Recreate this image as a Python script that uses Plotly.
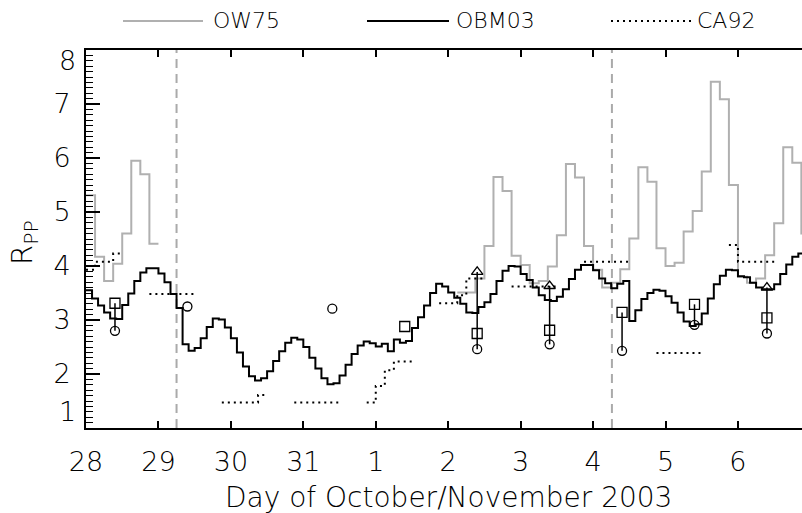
import plotly.graph_objects as go

# ---------------- data (x = days since 2003-10-28 00:00 UT) ----------------
day_tickvals = [0, 1, 2, 3, 4, 5, 6, 7, 8, 9]
day_ticklabels = ["28", "29", "30", "31", "1", "2", "3", "4", "5", "6"]
y_tickvals = [1, 2, 3, 4, 5, 6, 7, 8]
y_ticklabels = ["", "2", "3", "4", "5", "6", "7", ""]   # end labels drawn inset below
y_end_labels = [(1, "1"), (8, "8")]

STEP3H = 0.125   # 3-hour step (days)
STEP2H = 1 / 12  # 2-hour step (days)

# OW75 (3-hourly); segments: (start index in 3-h steps, values)
ow75_segments = [
    (0, [5.31, 4.17, 3.72, 4.04, 4.60, 5.95, 5.70, 4.41]),
    (41, [3.51, 3.51, 3.77, 4.37, 5.65, 5.39, 4.19, 4.02, 3.68, 3.72, 3.99, 4.57,
          5.89, 5.64, 4.37, 3.93, 3.60, 3.69, 3.94, 4.51, 5.83, 5.56, 4.33, 4.00,
          4.06, 4.64, 5.02, 5.75, 7.41, 7.09, 5.50, 3.80, 3.69, 3.77, 4.20, 4.79,
          6.20, 5.91, 4.60]),
]

# CA92 (3-hourly); segments
ca92_segments = [
    (0, [3.93, 4.08, 4.08, 4.23]),
    (7, [3.48, 3.48, 3.48, 3.48, 3.48]),
    (15, [1.47, 1.47, 1.47, 1.47, 1.61]),
    (23, [1.47, 1.47, 1.47, 1.47, 1.47]),
    (31, [1.47, 1.78, 2.07, 2.23, 2.23]),
    (39, [3.31, 3.31, 3.46, 3.77, 3.77]),
    (47, [3.62, 3.62, 3.62, 3.62, 3.62]),
    (55, [4.08, 4.08, 4.08, 4.08, 4.08]),
    (63, [2.39, 2.39, 2.39, 2.39, 2.39]),
    (71, [4.39, 4.08, 4.08, 4.08, 4.08]),
]

# OBM03 (2-hourly)
obm03 = [
    3.55, 3.40, 3.27, 3.14, 3.03, 3.02, 3.28, 3.49, 3.72, 3.88, 3.96, 3.96,
    3.86, 3.70, 3.48, 3.22, 2.55, 2.43, 2.48, 2.66, 2.87, 3.03, 3.01, 2.86,
    2.66, 2.40, 2.14, 1.96, 1.88, 1.92, 2.05, 2.24, 2.42, 2.58, 2.67, 2.64,
    2.50, 2.30, 2.10, 1.92, 1.81, 1.83, 1.97, 2.17, 2.37, 2.53, 2.60, 2.57,
    2.51, 2.56, 2.42, 2.64, 2.58, 2.61, 2.85, 3.05, 3.27, 3.50, 3.67, 3.62,
    3.51, 3.41, 3.30, 3.14, 3.13, 3.24, 3.33, 3.48, 3.72, 3.91, 4.00, 3.99,
    3.85, 3.74, 3.60, 3.46, 3.37, 3.35, 3.43, 3.57, 3.76, 3.93, 4.02, 4.02,
    3.92, 3.77, 3.68, 3.59, 3.67, 3.72, 2.98, 3.18, 3.39, 3.50, 3.56, 3.54,
    3.44, 3.32, 3.14, 2.97, 2.89, 2.92, 3.12, 3.40, 3.66, 3.82, 3.93, 3.92,
    3.81, 3.79, 3.69, 3.60, 3.57, 3.57, 3.66, 3.85, 4.03, 4.17, 4.23, 4.25,
]

# observations (days since Oct 28)
square_t = [0.4, 4.4, 5.4, 6.4, 7.4, 8.4, 9.4]
square_v = [3.31, 2.88, 2.75, 2.81, 3.14, 3.29, 3.04]
circle_t = [0.4, 1.4, 3.4, 5.4, 6.4, 7.4, 8.4, 9.4]
circle_v = [2.80, 3.25, 3.21, 2.46, 2.55, 2.43, 2.91, 2.75]
triangle_t = [5.4, 6.4, 9.4]
triangle_v = [3.89, 3.63, 3.60]

# event times (dashed lines)
event_t = [1.25, 7.26]

X_RANGE = [0, 9.884]
Y_RANGE = [1, 8]


def step_series(segments, step):
    xs, ys = [], []
    for start, vals in segments:
        n = len(vals)
        xs += [(start + i) * step for i in range(n + 1)]
        ys += list(vals) + [vals[-1]]
        xs.append(None)
        ys.append(None)
    return xs, ys


ow_x, ow_y = step_series(ow75_segments, STEP3H)
ca_x, ca_y = step_series(ca92_segments, STEP3H)
obm_x, obm_y = step_series([(0, obm03)], STEP2H)

# vertical connector lines between observations at same time
obs = {}
for t, v in zip(square_t + circle_t + triangle_t, square_v + circle_v + triangle_v):
    obs.setdefault(t, []).append(v)
con_x, con_y = [], []
for t, vs in obs.items():
    if len(vs) > 1:
        con_x += [t, t, None]
        con_y += [min(vs), max(vs), None]

FONT = "DejaVu Sans"

fig = go.Figure()
fig.add_trace(go.Scatter(x=ow_x, y=ow_y, mode="lines", line=dict(color="#b0b0b0", width=2, shape="hv"),
                         name="OW75", showlegend=False, connectgaps=False))
fig.add_trace(go.Scatter(x=ca_x, y=ca_y, mode="lines", line=dict(color="black", width=2, shape="hv", dash="2px,4px"),
                         name="CA92", showlegend=False, connectgaps=False))
fig.add_trace(go.Scatter(x=obm_x, y=obm_y, mode="lines", line=dict(color="black", width=2, shape="hv"),
                         name="OBM03", showlegend=False, connectgaps=False))
fig.add_trace(go.Scatter(x=con_x, y=con_y, mode="lines", line=dict(color="black", width=1.5),
                         showlegend=False, hoverinfo="skip"))
fig.add_trace(go.Scatter(x=square_t, y=square_v, mode="markers",
                         marker=dict(symbol="square-open", size=10, color="black", line=dict(width=1.3)),
                         showlegend=False))
fig.add_trace(go.Scatter(x=circle_t, y=circle_v, mode="markers",
                         marker=dict(symbol="circle-open", size=9, color="black", line=dict(width=1.3)),
                         showlegend=False))
fig.add_trace(go.Scatter(x=triangle_t, y=triangle_v, mode="markers",
                         marker=dict(symbol="triangle-up-open", size=10, color="black", line=dict(width=1.3)),
                         showlegend=False))

for t in event_t:
    fig.add_shape(type="line", x0=t, x1=t, y0=0, y1=1, xref="x", yref="paper",
                  line=dict(color="#aaaaaa", width=2, dash="9px,6px"), layer="below")

# layout geometry
W, H = 802, 513
L, T, B = 86, 50, 85
PW, PH = W - L, H - T - B


def px(xpix):
    return (xpix - L) / PW


def py(ypix):
    return (H - B - ypix) / PH


# manual legend
legend_items = [
    ("OW75", dict(color="#b0b0b0", width=2), 123, 203, 211),
    ("OBM03", dict(color="black", width=2), 367, 449, 454),
    ("CA92", dict(color="black", width=2, dash="2px,4px"), 611, 693, 695),
]
for name, ln, x0, x1, xt in legend_items:
    fig.add_shape(type="line", xref="paper", yref="paper", x0=px(x0), x1=px(x1), y0=py(21), y1=py(21), line=ln)
    fig.add_annotation(text=name, xref="paper", yref="paper", x=px(xt), y=py(21), xanchor="left",
                       yanchor="middle", showarrow=False, font=dict(family=FONT, size=22, color="black", weight=300))

# inset end labels of the y axis (as in the reference)
for val, lab in y_end_labels:
    ypix = 60 if val == 8 else 411
    fig.add_annotation(text=lab, xref="paper", yref="paper", x=px(78), y=py(ypix), xanchor="right",
                       yanchor="middle", showarrow=False, font=dict(family=FONT, size=27, color="black", weight=300))

fig.add_annotation(text="R<sub>PP</sub>", xref="paper", yref="paper", x=px(24), y=py(242), textangle=-90,
                   xanchor="center", yanchor="middle", showarrow=False,
                   font=dict(family=FONT, size=29, color="black", weight=300))
fig.add_annotation(text="Day of October/November 2003", xref="paper", yref="paper", x=px(448), y=py(497),
                   xanchor="center", yanchor="middle", showarrow=False,
                   font=dict(family=FONT, size=28, color="black", weight=300))

fig.update_layout(
    width=W, height=H, margin=dict(l=L, r=0, t=T, b=B, autoexpand=False),
    paper_bgcolor="white", plot_bgcolor="white", showlegend=False,
    font=dict(family=FONT, color="black", weight=300),
    xaxis=dict(range=X_RANGE, tickvals=day_tickvals, ticktext=day_ticklabels, ticks="inside", ticklen=7,
               tickwidth=1.5, tickcolor="black", showline=True, linewidth=2, linecolor="black", mirror="ticks",
               showgrid=False, zeroline=False, tickfont=dict(size=27), ticklabelstandoff=9),
    yaxis=dict(range=Y_RANGE, tickvals=y_tickvals, ticktext=y_ticklabels, ticks="inside", ticklen=14,
               tickwidth=1.5, tickcolor="black",
               showline=True, linewidth=2, linecolor="black", showgrid=False, zeroline=False,
               tickfont=dict(size=27), ticklabelstandoff=8,
               minor=dict(dtick=0.1, ticks="inside", ticklen=7, tickwidth=1, tickcolor="black", showgrid=False)),
    yaxis2=dict(range=Y_RANGE, overlaying="y", side="right", anchor="x", tickvals=y_tickvals, ticks="inside",
                ticklen=6, tickwidth=1.5, tickcolor="black", showticklabels=False, showline=False,
                showgrid=False, zeroline=False),
)

fig.write_html("out.html")
